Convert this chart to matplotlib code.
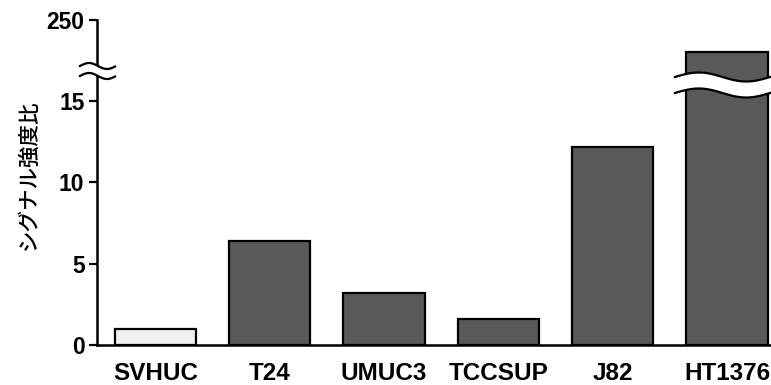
import matplotlib
matplotlib.use("Agg")
import matplotlib.pyplot as plt
import numpy as np

plt.rcParams['font.family'] = ['Liberation Sans', 'DejaVu Sans']

# signal ratio per cell line (normalised to SVHUC)
cell_lines = ["SVHUC", "T24", "UMUC3", "TCCSUP", "J82", "HT1376"]
ratios = [1.0, 6.4, 3.17, 1.6, 12.17, 219.0]
bar_colors = ["#f0f0f0", "#595959", "#595959", "#595959", "#595959", "#595959"]

low_lim = (0, 16.84)
high_lim = (200, 250)
low_ticks = [0, 5, 10, 15]
high_ticks = [250]

W, H = 771, 385
fig = plt.figure(figsize=(W / 100, H / 100), dpi=100)

left, right = 97, 771
ax_lo = fig.add_axes([left / W, 1 - 345 / H, (right - left) / W, (345 - 71) / H])
ax_hi = fig.add_axes([left / W, 1 - 71 / H, (right - left) / W, (71 - 20) / H])

x = np.arange(len(cell_lines))
for ax in (ax_lo, ax_hi):
    ax.bar(x, ratios, width=0.71, color=bar_colors, edgecolor="black", linewidth=1.6)
    ax.set_xlim(-0.51, 5.385)
    for s in ("top", "right"):
        ax.spines[s].set_visible(False)
    ax.spines["left"].set_linewidth(1.8)
    ax.tick_params(axis="y", length=6, width=1.6, pad=3, labelsize=16.5)

ax_lo.set_ylim(*low_lim)
ax_lo.set_yticks(low_ticks)
ax_lo.spines["bottom"].set_linewidth(1.8)
ax_lo.set_xticks(x)
ax_lo.set_xticklabels(cell_lines, fontsize=17.5, fontweight="bold")
ax_lo.tick_params(axis="x", length=0, pad=12)
ax_lo.set_yticklabels([str(t) for t in low_ticks], fontweight="bold")

ax_hi.set_ylim(*high_lim)
ax_hi.set_yticks(high_ticks)
ax_hi.set_yticklabels([str(t) for t in high_ticks], fontweight="bold")
ax_hi.spines["bottom"].set_visible(False)
ax_hi.set_xticks([])

fig.text(29 / W, 1 - 175 / H, "シグナル強度比", rotation=90, ha="center", va="center",
         fontsize=15.5, fontweight="medium", family=["Noto Sans CJK JP", "DejaVu Sans"])


def wave_break(x0, x1, y_mid, amp, gap, period):
    # white band with wavy black edges, in pixel units
    xs = np.linspace(x0, x1, 120)
    top = y_mid - gap / 2 - amp * np.sin(2 * np.pi * (xs - x0) / period)
    bot = top + gap
    fx = xs / W
    fig.patches.append(plt.Polygon(
        np.column_stack([np.r_[fx, fx[::-1]], 1 - np.r_[top, bot[::-1]] / H]),
        closed=True, facecolor="white", edgecolor="none",
        transform=fig.transFigure, figure=fig, zorder=10))
    for yy in (top, bot):
        fig.lines.append(plt.Line2D(fx, 1 - yy / H, color="black", linewidth=1.6,
                                    transform=fig.transFigure, figure=fig, zorder=11))


wave_break(80, 115, 71, 3, 10, 36)
wave_break(675, 771, 85, 4.5, 16, 95)

fig.savefig("out.png", dpi=100)
